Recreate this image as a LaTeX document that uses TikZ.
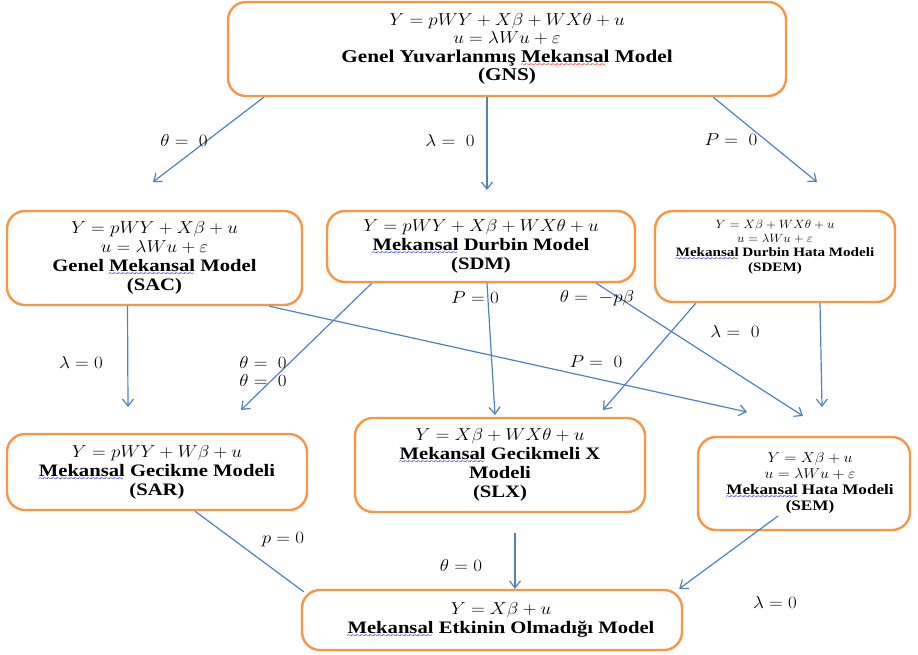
\documentclass[tikz,border=0pt]{standalone}
\usepackage{fontspec}
\setmainfont{Liberation Serif}[FakeStretch=1.18]
\usepackage{graphicx}
\usetikzlibrary{arrows.meta,calc}
\definecolor{boxorange}{RGB}{247,150,70}
\definecolor{lineblue}{RGB}{79,129,189}
\newcommand\sq[2]{\leavevmode\setbox0\hbox{#2}\rlap{\raisebox{-5pt}{\color{#1}\hbox to \wd0{\fontsize{8.5}{8.5}\selectfont\mdseries\leaders\hbox{\kern-0.5pt\char"7E\kern-0.5pt}\hfill}}}\box0\relax}
\newcommand\eqn[1]{\scalebox{1.1}[1]{$#1$}}
\begin{document}
\begin{tikzpicture}[x=1pt,y=-1pt,
  box/.style={draw=boxorange, line width=2.4pt, rounded corners=18pt, fill=white, inner sep=0pt, align=center, font=\bfseries\fontsize{17.5}{19}\selectfont},
  bigbox/.style={box, font=\bfseries\fontsize{18}{18.6}\selectfont},
  smallbox/.style={box, font=\bfseries\fontsize{14.5}{16}\selectfont},
  conn/.style={draw=lineblue, line width=1.2pt, -{Straight Barb[length=7pt,width=11pt]}},
  plain/.style={draw=lineblue, line width=1.2pt},
  lbl/.style={font=\fontsize{18}{18}\selectfont, inner sep=0pt}]
\useasboundingbox (0,0) rectangle (918,654);
% boxes
\node[bigbox, minimum width=558pt, minimum height=94pt] (gns) at (507,49)
  {\eqn{Y = pWY + X\beta + WX\theta + u}\\ \eqn{u = \lambda Wu + \varepsilon}\\ Genel Yuvarlanmış \sq{red}{Mekansal} Model\\ (GNS)};
\node[box, minimum width=295pt, minimum height=94pt] (sac) at (154.5,258)
  {\eqn{Y = pWY + X\beta + u}\\ \eqn{u = \lambda Wu + \varepsilon}\\ Genel \sq{blue}{Mekansal} Model\\ (SAC)};
\node[box, minimum width=308pt, minimum height=71pt] (sdm) at (481,246.5)
  {\eqn{Y = pWY + X\beta + WX\theta + u}\\ \sq{blue}{Mekansal} Durbin Model\\ (SDM)};
\node[box, minimum width=240pt, minimum height=91pt] (sdem) at (775,256.5) {};
\node[align=center, inner sep=0pt, font=\bfseries\fontsize{12.8}{13.8}\selectfont] (sdemtext) at (775,247)
  {\eqn{Y = X\beta + WX\theta + u}\\ \eqn{u = \lambda Wu + \varepsilon}\\ \sq{blue}{Mekansal} Durbin Hata Modeli\\ (SDEM)};
\node[box, minimum width=300pt, minimum height=76pt] (sar) at (157,472)
  {\eqn{Y = pWY + W\beta + u}\\ \sq{blue}{Mekansal} Gecikme Modeli\\ (SAR)};
\node[box, minimum width=290pt, minimum height=94pt] (slx) at (500,465)
  {\eqn{Y = X\beta + WX\theta + u}\\ \sq{blue}{Mekansal} Gecikmeli X\\ Modeli\\ (SLX)};
\node[smallbox, minimum width=212pt, minimum height=93pt] (sem) at (804,483.5) {};
\node[align=center, inner sep=0pt, font=\bfseries\fontsize{14.5}{16}\selectfont] (semtext) at (810,483.5)
  {\eqn{Y = X\beta + u}\\ \eqn{u = \lambda Wu + \varepsilon}\\ \sq{blue}{Mekansal} Hata Modeli\\ (SEM)};
\node[box, minimum width=380pt, minimum height=60pt] (none) at (492,620) {};
\node[align=center, inner sep=0pt, font=\bfseries\fontsize{17.5}{19}\selectfont] (nonetext) at (501,620)
  {\eqn{Y = X\beta + u}\\ \sq{blue}{Mekansal} Etkinin Olmadığı Model};
% free ends
\coordinate (e1) at (153,182);
\coordinate (e2) at (487,190);
\coordinate (e3) at (817,182);
\coordinate (e4) at (128,407);
\coordinate (e5) at (241,410);
\coordinate (e6) at (747,412);
\coordinate (e7) at (495,415);
\coordinate (e8) at (803,416);
\coordinate (e9) at (603,410);
\coordinate (e10) at (822,407);
\coordinate (s12) at (515,533);
\coordinate (s13) at (778,516);
% connectors
\draw[conn] ([xshift=37pt]gns.south west) -- (e1);
\draw[conn] ([xshift=-20pt]gns.south) -- (e2);
\draw[conn] ([xshift=-74pt]gns.south east) -- (e3);
\draw[conn] ([xshift=-27pt]sac.south) -- (e4);
\draw[conn] ([xshift=46pt]sdm.south west) -- (e5);
\draw[conn] ([xshift=-34pt]sac.south east) -- (e6);
\draw[conn] ([xshift=6pt]sdm.south) -- (e7);
\draw[conn] ([xshift=-40pt]sdm.south east) -- (e8);
\draw[conn] ([xshift=42pt]sdem.south west) -- (e9);
\draw[conn] ([xshift=45pt]sdem.south) -- (e10);
\draw[plain] ([xshift=38pt]sar.south) -- ([xshift=3pt,yshift=-3pt]none.north west);
\draw[conn] (s12) -- ([xshift=23pt]none.north);
\draw[conn] (s13) -- ([xshift=-4pt]none.north east);
% labels
\node[lbl] (l1) at (184,140) {\eqn{\theta = \;0}};
\node[lbl] (l2) at (450,140) {\eqn{\lambda = \;0}};
\node[lbl] (l3) at (731,140) {\eqn{P = \;0}};
\node[lbl] (l4) at (81,362) {\eqn{\lambda = 0}};
\node[lbl] (l5) at (263,362) {\eqn{\theta = \;0}};
\node[lbl] (l6) at (263,380) {\eqn{\theta = \;0}};
\node[lbl] (l7) at (596,362) {\eqn{P = \;0}};
\node[lbl] (l8) at (475,298) {\eqn{P = 0}};
\node[lbl] (l9) at (597,298) {\eqn{\theta = \;-p\beta}};
\node[lbl] (l10) at (735,331) {\eqn{\lambda = \;0}};
\node[lbl] (l11) at (283,540) {\eqn{p = 0}};
\node[lbl] (l12) at (461,565) {\eqn{\theta = 0}};
\node[lbl] (l13) at (775,602) {\eqn{\lambda = 0}};
\end{tikzpicture}
\end{document}
